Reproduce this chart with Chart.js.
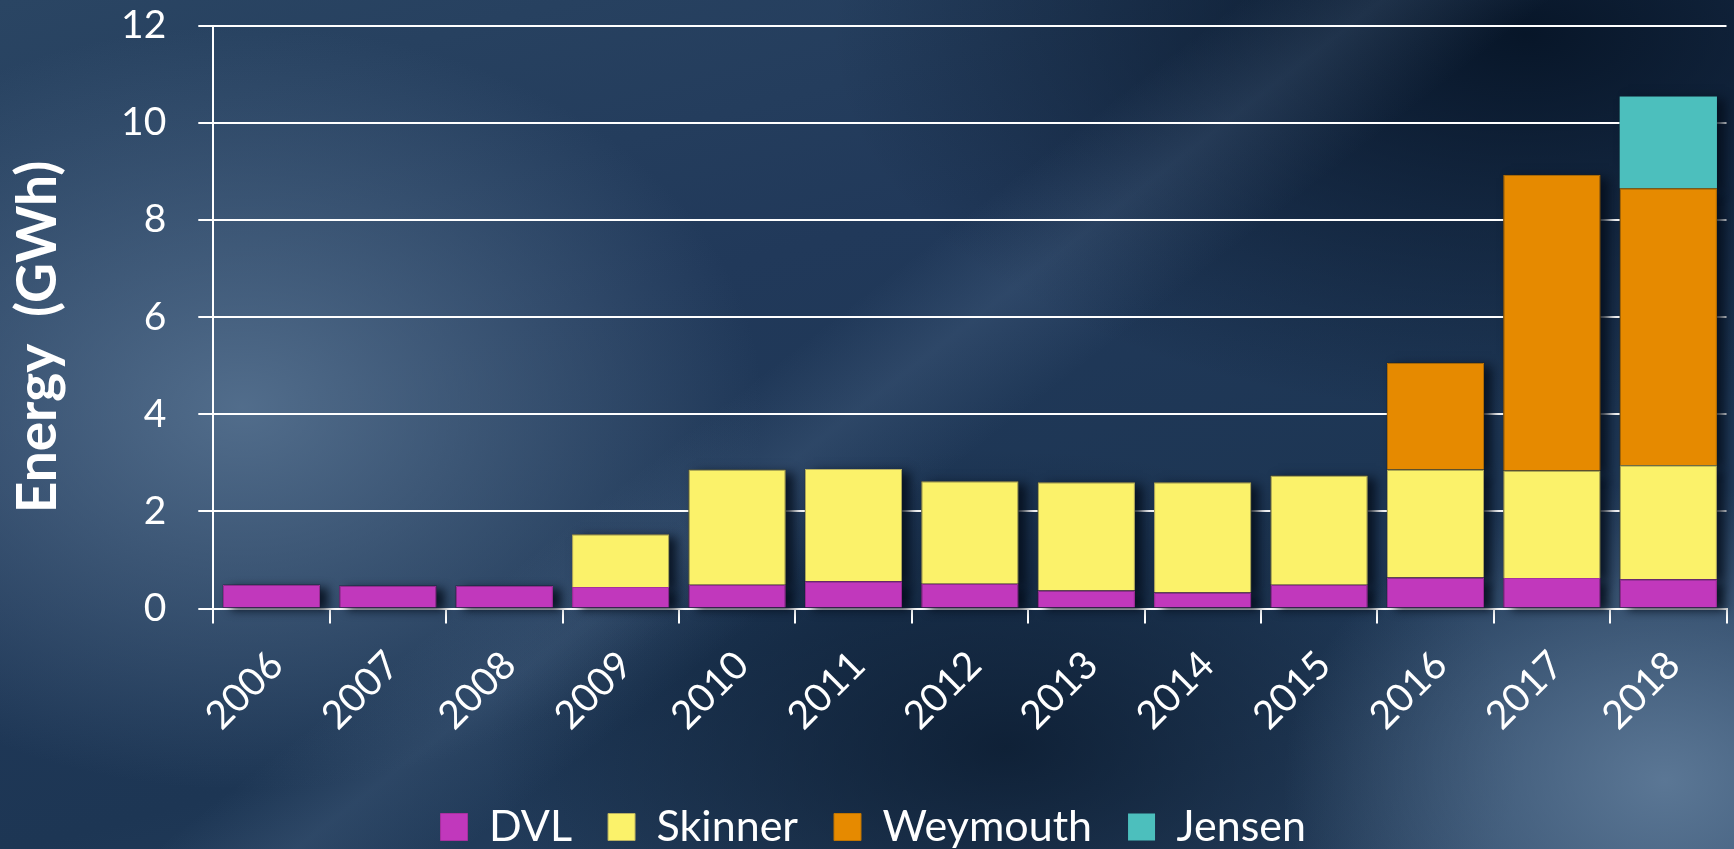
<!DOCTYPE html>
<html>
<head>
<meta charset="utf-8">
<script src="https://cdn.jsdelivr.net/npm/chart.js@4.4.1/dist/chart.umd.min.js"></script>
<style>
  html, body { margin: 0; padding: 0; }
  body {
    width: 1734px; height: 849px; overflow: hidden;
    background:
      linear-gradient(142deg, rgba(0,0,0,0) 44%, rgba(120,150,185,0.16) 49%, rgba(0,0,0,0) 55%),
      radial-gradient(ellipse 30% 45% at 14% 48%, rgba(90,118,148,0.85) 0%, rgba(90,118,148,0) 100%),
      radial-gradient(ellipse 22% 35% at 96% 92%, rgba(96,124,154,0.9) 0%, rgba(96,124,154,0) 100%),
      radial-gradient(ellipse 40% 45% at 88% 4%, rgba(6,20,38,0.95) 0%, rgba(6,20,38,0) 100%),
      radial-gradient(ellipse 30% 35% at 58% 88%, rgba(10,26,46,0.8) 0%, rgba(10,26,46,0) 100%),
      linear-gradient(165deg, #2a4563 0%, #21395a 35%, #1d3654 65%, #2d4868 100%);
  }
  #wrap { position: absolute; left: 0; top: 0; width: 1734px; height: 849px; }
</style>
</head>
<body>
<div id="wrap"><canvas id="c" width="1734" height="849"></canvas></div>
<script>
const years = ['2006','2007','2008','2009','2010','2011','2012','2013','2014','2015','2016','2017','2018'];
const dvl      = [0.49, 0.47, 0.47, 0.44, 0.49, 0.56, 0.51, 0.37, 0.33, 0.49, 0.64, 0.63, 0.60];
const skinner  = [null, null, null, 1.09, 2.37, 2.31, 2.11, 2.23, 2.27, 2.25, 2.22, 2.21, 2.35];
const weymouth = [null, null, null, null, null, null, null, null, null, null, 2.20, 6.09, 5.70];
const jensen   = [null, null, null, null, null, null, null, null, null, null, null, null, 1.89];
const yTickValues = [0, 2, 4, 6, 8, 10, 12];

const shadowPlugin = {
  id: 'barShadow',
  beforeDatasetsDraw(chart) {
    const ctx = chart.ctx;
    ctx.save();
    ctx.fillStyle = 'rgba(10,20,35,1)';
    ctx.shadowColor = 'rgba(5,14,28,0.85)';
    ctx.shadowBlur = 10;
    ctx.shadowOffsetX = 8;
    ctx.shadowOffsetY = 3;
    chart.data.datasets.forEach((ds, di) => {
      const meta = chart.getDatasetMeta(di);
      meta.data.forEach((el, i) => {
        if (ds.data[i] == null) return;
        const p = el.getProps(['x', 'y', 'base', 'width'], true);
        const top = Math.min(p.y, p.base), h = Math.abs(p.base - p.y);
        ctx.fillRect(p.x - p.width / 2, top, p.width, h);
      });
    });
    ctx.restore();
  }
};

const tickFont = { family: 'Lato', size: 39 };

new Chart(document.getElementById('c'), {
  type: 'bar',
  data: {
    labels: years,
    datasets: [
      { label: 'DVL', data: dvl, backgroundColor: '#C138BC', borderColor: '#a8309f', borderWidth: 1 },
      { label: 'Skinner', data: skinner, backgroundColor: '#FBF26A', borderColor: '#b8b060', borderWidth: 1 },
      { label: 'Weymouth', data: weymouth, backgroundColor: '#E68A00', borderColor: '#c07400', borderWidth: 1 },
      { label: 'Jensen', data: jensen, backgroundColor: '#4CBFBD', borderColor: '#4CBFBD', borderWidth: 0 }
    ]
  },
  options: {
    responsive: false,
    animation: false,
    devicePixelRatio: 1,
    layout: { padding: { top: 0, right: 7.5, left: 20, bottom: -9.5 } },
    datasets: { bar: { barPercentage: 0.836, categoryPercentage: 1.0 } },
    plugins: {
      tooltip: { enabled: false },
      legend: {
        position: 'bottom',
        labels: {
          color: '#ffffff',
          font: { family: 'Lato', size: 43 },
          boxWidth: 27,
          boxHeight: 27,
          padding: 36
        }
      }
    },
    scales: {
      x: {
        stacked: true,
        grid: { drawOnChartArea: false, drawTicks: true, tickLength: 15, color: '#ffffff', lineWidth: 2, offset: true },
        border: { color: '#ffffff', width: 2 },
        ticks: { color: '#ffffff', font: tickFont, maxRotation: 45, minRotation: 45, padding: 18.5, labelOffset: 5, autoSkip: false },
        afterFit(scale) { scale.height = 161; }
      },
      y: {
        stacked: true,
        min: 0,
        max: 12,
        afterBuildTicks(scale) { scale.ticks = yTickValues.map(v => ({ value: v })); },
        grid: { color: '#ffffff', lineWidth: 2, tickLength: 15, drawTicks: true },
        border: { color: '#ffffff', width: 2 },
        ticks: { color: '#ffffff', font: tickFont, padding: 32 },
        title: {
          display: true,
          text: 'Energy  (GWh)   ',
          color: '#ffffff',
          font: { family: 'Lato', size: 55, weight: 'bold' },
          padding: { top: -15, bottom: 0 }
        },
        afterFit(scale) {
          scale.width = 193.3;
          scale.paddingTop = 25.5;
          scale.paddingBottom = 0;
        }
      }
    }
  },
  plugins: [shadowPlugin]
});
</script>
</body>
</html>
